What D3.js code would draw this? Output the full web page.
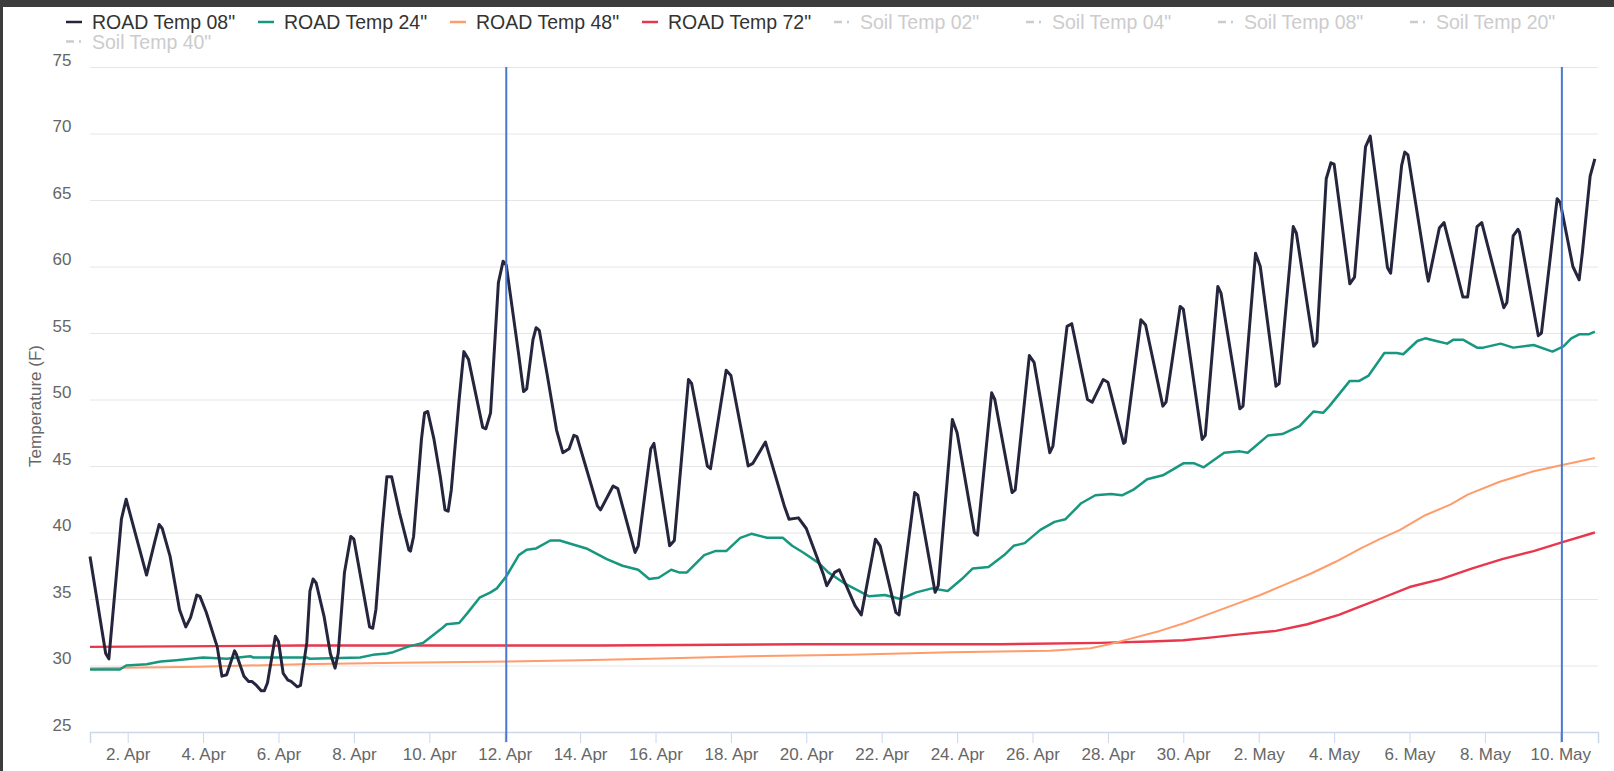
<!DOCTYPE html>
<html>
<head>
<meta charset="utf-8">
<script src="https://cdnjs.cloudflare.com/ajax/libs/d3/7.8.5/d3.min.js"></script>
<style>
html, body { margin: 0; padding: 0; background: #3c3c3c; overflow: hidden; }
svg { display: block; }
text { font-family: "Liberation Sans", Arial, sans-serif; }
</style>
</head>
<body>
<svg id="chart" width="1614" height="771"></svg>
<script>
// legend entries, first four are shown, the soil ones are switched off
var legendNames = ['ROAD Temp 08"', 'ROAD Temp 24"', 'ROAD Temp 48"', 'ROAD Temp 72"',
    'Soil Temp 02"', 'Soil Temp 04"', 'Soil Temp 08"', 'Soil Temp 20"', 'Soil Temp 40"'];
var legendVisible = [true, true, true, true, false, false, false, false, false];

var xTicks = ["04-02", "04-04", "04-06", "04-08", "04-10", "04-12", "04-14", "04-16", "04-18", "04-20",
    "04-22", "04-24", "04-26", "04-28", "04-30", "05-02", "05-04", "05-06", "05-08", "05-10"];
var yTicks = [25, 30, 35, 40, 45, 50, 55, 60, 65, 70, 75];
var markerLines = ["04-12 01", "05-10 01"];

// "MM-DD HH", temperature F
var road08 = [
    ["04-01 00", 38.2], ["04-01 10", 30.9], ["04-01 12", 30.5], ["04-01 20", 41.0], ["04-01 23", 42.5],
    ["04-02 12", 36.8], ["04-02 17", 39.2], ["04-02 20", 40.6], ["04-02 22", 40.3], ["04-03 03", 38.2],
    ["04-03 09", 34.2], ["04-03 13", 32.9], ["04-03 16", 33.6], ["04-03 20", 35.3], ["04-03 22", 35.2],
    ["04-04 02", 34.0], ["04-04 09", 31.4], ["04-04 12", 29.2], ["04-04 15", 29.3], ["04-04 20", 31.1],
    ["04-04 21", 30.9], ["04-05 02", 29.2], ["04-05 05", 28.8], ["04-05 07", 28.8], ["04-05 10", 28.5],
    ["04-05 13", 28.1], ["04-05 15", 28.1], ["04-05 17", 28.7], ["04-05 22", 32.2], ["04-06 00", 31.8],
    ["04-06 03", 29.4], ["04-06 06", 28.9], ["04-06 08", 28.8], ["04-06 12", 28.4], ["04-06 14", 28.5],
    ["04-06 18", 31.7], ["04-06 20", 35.6], ["04-06 22", 36.5], ["04-07 00", 36.2], ["04-07 05", 33.7],
    ["04-07 09", 30.9], ["04-07 12", 29.8], ["04-07 14", 30.9], ["04-07 18", 37.0], ["04-07 22", 39.7],
    ["04-08 00", 39.5], ["04-08 05", 36.2], ["04-08 10", 32.9], ["04-08 12", 32.8], ["04-08 14", 34.2],
    ["04-08 18", 40.3], ["04-08 21", 44.2], ["04-09 00", 44.2], ["04-09 05", 41.5], ["04-09 11", 38.7],
    ["04-09 12", 38.6], ["04-09 14", 39.7], ["04-09 19", 47.0], ["04-09 21", 49.0], ["04-09 23", 49.1],
    ["04-10 03", 47.0], ["04-10 07", 44.2], ["04-10 10", 41.7], ["04-10 12", 41.6], ["04-10 14", 43.2],
    ["04-10 19", 50.0], ["04-10 22", 53.6], ["04-11 01", 53.0], ["04-11 10", 47.9], ["04-11 12", 47.8],
    ["04-11 15", 49.0], ["04-11 20", 58.8], ["04-11 23", 60.4], ["04-12 01", 60.1], ["04-12 09", 53.3],
    ["04-12 12", 50.6], ["04-12 14", 50.8], ["04-12 18", 54.5], ["04-12 20", 55.4], ["04-12 22", 55.2],
    ["04-13 03", 51.9], ["04-13 09", 47.7], ["04-13 13", 46.0], ["04-13 17", 46.3], ["04-13 20", 47.3],
    ["04-13 22", 47.2], ["04-14 11", 42.0], ["04-14 13", 41.7], ["04-14 21", 43.5], ["04-15 00", 43.3],
    ["04-15 11", 38.5], ["04-15 13", 39.0], ["04-15 21", 46.3], ["04-15 23", 46.7], ["04-16 09", 39.0],
    ["04-16 12", 39.4], ["04-16 21", 51.5], ["04-16 23", 51.2], ["04-17 09", 45.0], ["04-17 11", 44.8],
    ["04-17 21", 52.2], ["04-18 00", 51.8], ["04-18 11", 45.0], ["04-18 14", 45.2], ["04-18 22", 46.8],
    ["04-19 10", 42.0], ["04-19 13", 41.0], ["04-19 19", 41.1], ["04-20 00", 40.3], ["04-20 11", 36.8],
    ["04-20 13", 36.0], ["04-20 18", 37.0], ["04-20 21", 37.2], ["04-21 07", 34.5], ["04-21 11", 33.8],
    ["04-21 20", 39.5], ["04-21 23", 39.0], ["04-22 09", 34.0], ["04-22 11", 33.8], ["04-22 21", 43.0],
    ["04-22 23", 42.8], ["04-23 10", 35.5], ["04-23 12", 36.0], ["04-23 21", 48.5], ["04-24 00", 47.5],
    ["04-24 11", 40.0], ["04-24 13", 39.8], ["04-24 22", 50.5], ["04-25 00", 50.0], ["04-25 11", 43.0],
    ["04-25 13", 43.2], ["04-25 22", 53.3], ["04-26 01", 52.8], ["04-26 11", 46.0], ["04-26 13", 46.5],
    ["04-26 22", 55.5], ["04-27 01", 55.7], ["04-27 11", 50.0], ["04-27 14", 49.8], ["04-27 21", 51.5],
    ["04-28 00", 51.3], ["04-28 10", 46.7], ["04-28 11", 46.8], ["04-28 21", 56.0], ["04-29 00", 55.6],
    ["04-29 11", 49.5], ["04-29 13", 49.8], ["04-29 22", 57.0], ["04-30 00", 56.8], ["04-30 12", 47.0],
    ["04-30 14", 47.3], ["04-30 22", 58.5], ["05-01 00", 58.0], ["05-01 12", 49.3], ["05-01 14", 49.5],
    ["05-01 22", 61.0], ["05-02 01", 60.0], ["05-02 11", 51.0], ["05-02 13", 51.2], ["05-02 22", 63.0],
    ["05-03 00", 62.5], ["05-03 11", 54.0], ["05-03 13", 54.3], ["05-03 19", 66.6], ["05-03 22", 67.8],
    ["05-04 00", 67.7], ["05-04 10", 58.7], ["05-04 13", 59.2], ["05-04 20", 69.0], ["05-04 23", 69.8],
    ["05-05 10", 59.9], ["05-05 12", 59.5], ["05-05 19", 67.6], ["05-05 21", 68.6], ["05-05 23", 68.4],
    ["05-06 11", 59.5], ["05-06 12", 58.9], ["05-06 19", 62.9], ["05-06 22", 63.3], ["05-07 10", 57.7],
    ["05-07 13", 57.7], ["05-07 19", 63.0], ["05-07 22", 63.3], ["05-08 12", 56.9], ["05-08 14", 57.3],
    ["05-08 18", 62.3], ["05-08 21", 62.8], ["05-08 22", 62.6], ["05-09 10", 54.8], ["05-09 12", 55.0],
    ["05-09 22", 65.1], ["05-10 00", 64.8], ["05-10 08", 60.0], ["05-10 12", 59.0], ["05-10 14", 61.0],
    ["05-10 19", 66.8], ["05-10 22", 68.1]
];

var road24 = [
    ["04-01 00", 29.7], ["04-01 19", 29.7], ["04-01 23", 30.0], ["04-02 12", 30.1], ["04-02 21", 30.3],
    ["04-03 07", 30.4], ["04-04 00", 30.6], ["04-04 15", 30.5], ["04-05 06", 30.7], ["04-05 08", 30.6],
    ["04-06 18", 30.6], ["04-06 20", 30.5], ["04-08 04", 30.6], ["04-08 12", 30.8], ["04-08 21", 30.9],
    ["04-09 01", 31.0], ["04-09 10", 31.4], ["04-09 20", 31.7], ["04-10 07", 32.7], ["04-10 11", 33.1],
    ["04-10 19", 33.2], ["04-11 00", 33.9], ["04-11 08", 35.1], ["04-11 15", 35.5], ["04-11 19", 35.8],
    ["04-12 01", 36.7], ["04-12 09", 38.3], ["04-12 14", 38.7], ["04-12 20", 38.8], ["04-13 05", 39.4],
    ["04-13 11", 39.4], ["04-14 04", 38.8], ["04-14 17", 38.0], ["04-15 03", 37.5], ["04-15 13", 37.2],
    ["04-15 20", 36.5], ["04-16 02", 36.6], ["04-16 10", 37.2], ["04-16 15", 37.0], ["04-16 20", 37.0],
    ["04-17 07", 38.3], ["04-17 14", 38.6], ["04-17 21", 38.6], ["04-18 06", 39.6], ["04-18 13", 39.9],
    ["04-18 23", 39.6], ["04-19 09", 39.6], ["04-19 15", 39.0], ["04-19 22", 38.5], ["04-20 08", 37.7],
    ["04-20 14", 37.0], ["04-21 00", 36.2], ["04-21 16", 35.2], ["04-22 02", 35.3], ["04-22 12", 35.0],
    ["04-22 22", 35.5], ["04-23 08", 35.8], ["04-23 18", 35.6], ["04-24 03", 36.5], ["04-24 10", 37.3],
    ["04-24 20", 37.4], ["04-25 06", 38.3], ["04-25 12", 39.0], ["04-25 19", 39.2], ["04-26 05", 40.2],
    ["04-26 14", 40.8], ["04-26 21", 41.0], ["04-27 07", 42.2], ["04-27 16", 42.8], ["04-28 02", 42.9],
    ["04-28 09", 42.8], ["04-28 16", 43.2], ["04-29 01", 44.0], ["04-29 11", 44.3], ["04-30 00", 45.2],
    ["04-30 07", 45.2], ["04-30 13", 44.9], ["05-01 02", 46.0], ["05-01 12", 46.1], ["05-01 17", 46.0],
    ["05-02 06", 47.3], ["05-02 15", 47.4], ["05-03 02", 48.0], ["05-03 11", 49.1], ["05-03 17", 49.0],
    ["05-03 21", 49.5], ["05-04 10", 51.4], ["05-04 16", 51.4], ["05-04 22", 51.8], ["05-05 08", 53.5],
    ["05-05 16", 53.5], ["05-05 20", 53.4], ["05-06 05", 54.4], ["05-06 10", 54.6], ["05-06 17", 54.4],
    ["05-07 00", 54.2], ["05-07 04", 54.5], ["05-07 10", 54.5], ["05-07 19", 53.9], ["05-07 23", 53.9],
    ["05-08 10", 54.2], ["05-08 18", 53.9], ["05-09 07", 54.1], ["05-09 19", 53.6], ["05-10 02", 54.0],
    ["05-10 07", 54.6], ["05-10 12", 54.9], ["05-10 18", 54.9], ["05-10 22", 55.1]
];

var road48 = [
    ["04-01 00", 29.8], ["04-03 22", 29.9], ["04-06 14", 30.1], ["04-09 05", 30.2], ["04-12 02", 30.3],
    ["04-14 00", 30.4], ["04-15 21", 30.5], ["04-18 12", 30.7], ["04-21 04", 30.8], ["04-23 20", 31.0],
    ["04-26 11", 31.1], ["04-27 13", 31.3], ["04-28 01", 31.6], ["04-28 14", 32.0], ["04-29 09", 32.6],
    ["04-30 01", 33.2], ["04-30 17", 33.9], ["05-01 09", 34.6], ["05-02 01", 35.3], ["05-02 17", 36.1],
    ["05-03 09", 36.9], ["05-04 01", 37.8], ["05-04 17", 38.8], ["05-05 05", 39.5], ["05-05 18", 40.2],
    ["05-06 10", 41.3], ["05-07 02", 42.1], ["05-07 13", 42.85], ["05-08 09", 43.8], ["05-09 07", 44.6],
    ["05-10 02", 45.1], ["05-10 22", 45.6]
];

var road72 = [
    ["04-01 00", 31.4], ["04-06 14", 31.5], ["04-14 13", 31.5], ["04-19 20", 31.6], ["04-25 03", 31.6],
    ["04-27 19", 31.7], ["04-29 03", 31.8], ["04-30 00", 31.9], ["04-30 17", 32.1], ["05-01 09", 32.3],
    ["05-02 11", 32.6], ["05-03 07", 33.1], ["05-04 03", 33.8], ["05-04 16", 34.4], ["05-05 05", 35.0],
    ["05-06 00", 35.9], ["05-06 20", 36.5], ["05-07 16", 37.3], ["05-08 11", 38.0], ["05-09 07", 38.6],
    ["05-10 02", 39.3], ["05-10 22", 40.0]
];

var lineColors = ["#25263d", "#17977f", "#ff9c6b", "#e8374d"];
var lineWidths = [3, 2.5, 2, 2.4];
var hiddenColor = "#cccccc";

var parseTime = d3.utcParse("%Y-%m-%d %H");
function toDate(s) { return parseTime("2021-" + s); }

var svg = d3.select("#chart");
var W = 1614, H = 771;
var margin = {top: 67, left: 90, right: 16, bottom: 39};

// white panel inside the dark frame
svg.append("rect").attr("x", 3).attr("y", 7).attr("width", W - 3).attr("height", H - 7).attr("fill", "#ffffff");

var x = d3.scaleUtc()
    .domain([toDate("04-01 00"), toDate("05-11 00")])
    .range([margin.left, W - margin.right]);
var y = d3.scaleLinear()
    .domain([25, 75])
    .range([H - margin.bottom, margin.top]);

// y axis with grid
var yAxis = svg.append("g")
    .attr("transform", "translate(" + margin.left + ",0)")
    .call(d3.axisLeft(y).tickValues(yTicks).tickSize(-(W - margin.left - margin.right)).tickPadding(18.5));
yAxis.select(".domain").remove();
yAxis.selectAll(".tick line").attr("stroke", "#e6e6e6").attr("stroke-width", 1);
yAxis.selectAll(".tick text")
    .attr("fill", "#666666").attr("font-size", "17px").attr("dy", -2)
    .style("font-family", '"Liberation Sans", Arial, sans-serif');

svg.append("text")
    .attr("transform", "translate(41,406) rotate(-90)")
    .attr("text-anchor", "middle")
    .attr("fill", "#666666")
    .attr("font-size", "17px")
    .text("Temperature (F)");

// x axis
var xAxis = svg.append("g")
    .attr("transform", "translate(0," + y(25) + ")")
    .call(d3.axisBottom(x)
        .tickValues(xTicks.map(function(d) { return toDate(d + " 00"); }))
        .tickFormat(d3.utcFormat("%-d. %b"))
        .tickSize(11).tickPadding(5));
xAxis.select(".domain").attr("stroke", "#ccd6eb").attr("stroke-width", 1.5);
xAxis.selectAll(".tick line").attr("stroke", "#ccd6eb");
xAxis.selectAll(".tick text")
    .attr("fill", "#666666").attr("font-size", "17px")
    .style("font-family", '"Liberation Sans", Arial, sans-serif');

// series
var allSeries = [road08, road24, road48, road72];
var line = d3.line()
    .x(function(d) { return x(toDate(d[0])); })
    .y(function(d) { return y(d[1]); });

// draw the flat deep ones first so the 08" line sits on top
[3, 2, 1, 0].forEach(function(i) {
    svg.append("path")
        .datum(allSeries[i])
        .attr("fill", "none")
        .attr("stroke", lineColors[i])
        .attr("stroke-width", lineWidths[i])
        .attr("stroke-linejoin", "round")
        .attr("d", line);
});

// blue marker lines
svg.selectAll(".marker").data(markerLines).enter()
    .append("line")
    .attr("class", "marker")
    .attr("x1", function(d) { return x(toDate(d)); })
    .attr("x2", function(d) { return x(toDate(d)); })
    .attr("y1", y(75))
    .attr("y2", y(25) + 10)
    .attr("stroke", "#4a77d0")
    .attr("stroke-width", 2);

// legend
var legend = svg.append("g");
legendNames.forEach(function(name, i) {
    var col = i % 8, row = Math.floor(i / 8);
    var lx = 66 + col * 192, ly = 29 + row * 19.5;
    var g = legend.append("g");
    var sym = g.append("line")
        .attr("x1", lx).attr("x2", lx + 16)
        .attr("y1", ly - 7).attr("y2", ly - 7)
        .attr("stroke-width", 2.5);
    if (legendVisible[i]) {
        sym.attr("stroke", lineColors[i]);
    } else {
        sym.attr("stroke", hiddenColor).attr("stroke-dasharray", "8,5,2,5");
    }
    g.append("text")
        .attr("x", lx + 26).attr("y", ly)
        .attr("font-size", "19.5px")
        .attr("fill", legendVisible[i] ? "#333333" : hiddenColor)
        .text(name);
});
</script>
</body>
</html>
